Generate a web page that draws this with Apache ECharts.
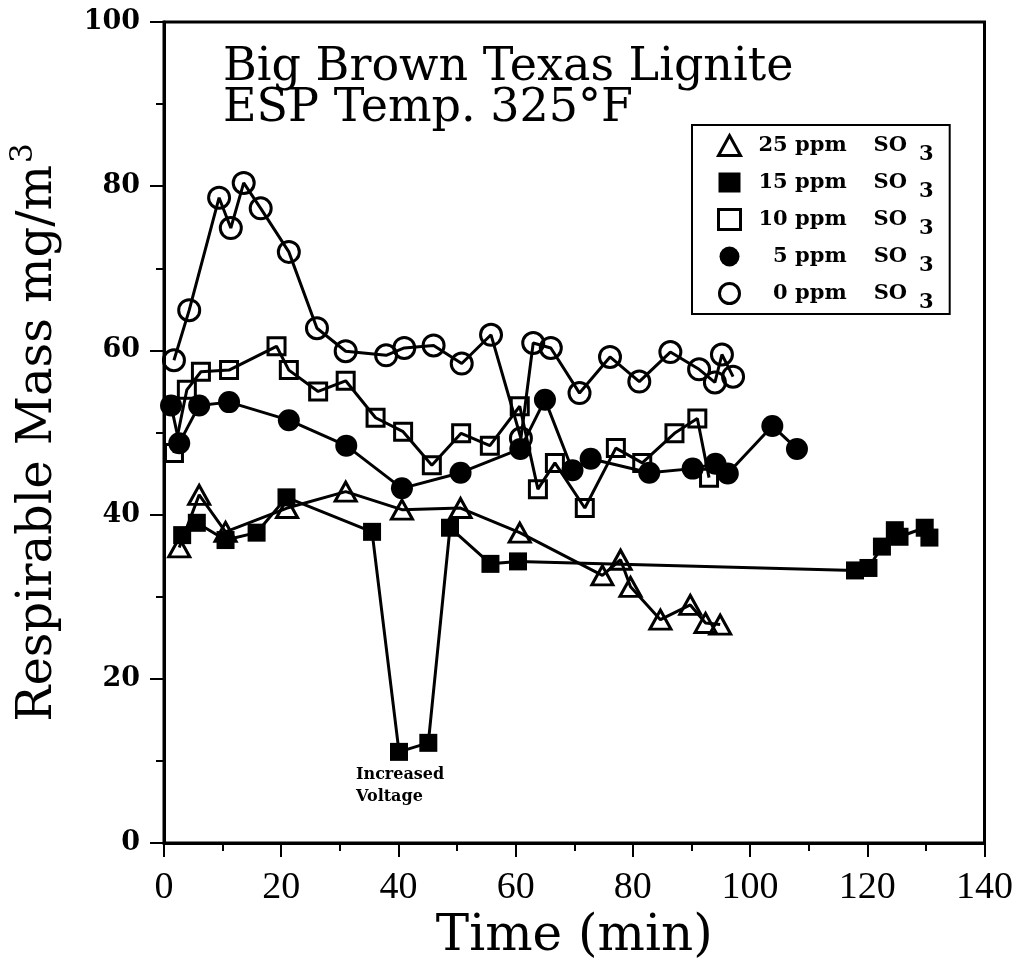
<!DOCTYPE html>
<html><head><meta charset="utf-8">
<script src="https://cdn.jsdelivr.net/npm/echarts@6/dist/echarts.min.js"></script>
<style>html,body{margin:0;padding:0;background:#fff}#c{width:1016px;height:971px}</style>
</head><body><div id="c"></div>
<script>
// ---- data (time in min, respirable mass in mg/m3) ----
const seriesNames = ['25 ppm', '15 ppm', '10 ppm', '5 ppm', '0 ppm'];
const ppm25 = [[2.6,36.0],[6.0,42.4],[10.5,37.9],[21.0,40.8],[31.0,42.8],[40.6,40.6],[50.6,40.8],[60.7,37.8],[74.8,32.6],[77.9,34.5],[79.6,31.2],[84.7,27.2],[89.8,29.0],[92.4,26.8],[94.9,26.6]];
const ppm15 = [[3.1,37.5],[5.6,39.0],[10.5,36.9],[15.8,37.8],[20.9,42.1],[35.5,37.9],[40.1,11.1],[45.1,12.2],[48.8,38.4],[55.7,34.0],[60.4,34.3],[117.9,33.2],[120.2,33.5],[122.5,36.1],[124.7,38.1],[125.5,37.3],[129.8,38.4],[130.6,37.2]];
const ppm10 = [[1.7,47.5],[3.9,55.2],[6.3,57.4],[11.1,57.6],[19.2,60.5],[21.3,57.6],[26.3,55.0],[31.0,56.3],[36.1,51.8],[40.8,50.1],[45.7,46.0],[50.7,49.9],[55.6,48.4],[60.7,53.2],[63.8,43.1],[66.7,46.3],[71.8,40.8],[77.1,48.1],[81.6,46.3],[87.1,49.9],[91.0,51.7],[93.0,44.5]];
const ppm5 = [[1.2,53.3],[2.6,48.7],[6.0,53.3],[11.1,53.7],[21.3,51.5],[31.1,48.4],[40.6,43.2],[50.6,45.1],[60.8,48.0],[65.0,54.0],[69.7,45.4],[72.8,46.8],[82.8,45.1],[90.2,45.6],[94.1,46.2],[96.2,45.0],[103.8,50.8],[108.0,48.0]];
const ppm0 = [[1.7,58.8],[4.3,64.9],[9.4,78.6],[11.4,74.9],[13.6,80.4],[16.5,77.3],[21.3,72.0],[26.1,62.7],[31.0,59.9],[37.9,59.4],[41.0,60.3],[46.0,60.6],[50.8,58.4],[55.8,61.9],[60.9,49.3],[63.0,60.9],[66.0,60.3],[70.9,54.8],[76.1,59.2],[81.1,56.2],[86.4,59.8],[91.3,57.7],[94.0,56.1],[95.2,59.5],[97.1,56.8]];
const xTicks = [0,20,40,60,80,100,120,140];
const yTicks = [0,20,40,60,80,100];
const titleLines = ['Big Brown Texas Lignite', 'ESP Temp. 325°F'];
const annotation = { point: [40.1, 11.1], text: 'Increased\nVoltage' };

const SERIF = 'DejaVu Serif';
const hollow = 'rgba(255,255,255,0)';
const styles = [
  { symbol: 'triangle', size: [21, 19], fill: hollow, bw: 3 },
  { symbol: 'rect', size: 18, fill: '#000', bw: 0 },
  { symbol: 'rect', size: 17, fill: hollow, bw: 3 },
  { symbol: 'circle', size: 22, fill: '#000', bw: 0 },
  { symbol: 'circle', size: 21, fill: hollow, bw: 3 }
];
const datasets = [ppm25, ppm15, ppm10, ppm5, ppm0];

const series = datasets.map((d, i) => {
  const st = styles[i];
  const data = d.map(p => {
    if (i === 1 && p[0] === annotation.point[0] && p[1] === annotation.point[1]) {
      return { value: p, label: { show: true, position: 'bottom', align: 'left', offset: [-43, 0], distance: 3,
        formatter: annotation.text, fontFamily: SERIF, fontWeight: 'bold', fontSize: 16, lineHeight: 22, color: '#000' } };
    }
    return p;
  });
  return {
    name: seriesNames[i], type: 'line', data,
    symbol: st.symbol, symbolSize: st.size, showSymbol: true,
    lineStyle: { color: '#000', width: 3 },
    itemStyle: { color: st.fill, borderColor: '#000', borderWidth: st.bw },
    emphasis: { disabled: true }, z: 2 + i
  };
});

const chart = echarts.init(document.getElementById('c'), null, { renderer: 'canvas' });
chart.setOption({
  animation: false,
  backgroundColor: '#fff',
  title: {
    text: titleLines.join('\n'), left: 218, top: 43,
    textStyle: { fontFamily: SERIF, fontSize: 46, fontWeight: 'normal', color: '#000', lineHeight: 41 }
  },
  legend: {
    orient: 'vertical', left: 692, top: 125,
    padding: [1, 16, 1, 25], itemGap: -2, itemWidth: 22, itemHeight: 20,
    borderColor: '#000', borderWidth: 2, selectedMode: false,
    data: seriesNames.map((n, i) => ({
      name: n, icon: styles[i].symbol,
      itemStyle: { color: styles[i].fill, borderColor: '#000', borderWidth: styles[i].bw }
    })),
    formatter: n => `{n|${n.length < 6 ? '  ' + n : n}}{so|SO}{s|3}`,
    textStyle: {
      fontFamily: SERIF, fontWeight: 'bold', fontSize: 21, color: '#000',
      rich: {
        n: { fontFamily: SERIF, fontWeight: 'bold', fontSize: 21, lineHeight: 24, padding: [0, 0, 0, 13] },
        so: { fontFamily: SERIF, fontWeight: 'bold', fontSize: 21, lineHeight: 24, padding: [0, 0, 0, 27] },
        s: { fontFamily: SERIF, fontWeight: 'bold', fontSize: 21, lineHeight: 24, padding: [18, 0, 0, 12] }
      }
    }
  },
  grid: { left: 160, right: 31, top: 22, bottom: 128, show: true, borderColor: '#000', borderWidth: 3, backgroundColor: 'transparent' },
  xAxis: {
    type: 'value', min: xTicks[0], max: xTicks[xTicks.length - 1], interval: xTicks[1] - xTicks[0],
    name: 'Time (min)', nameLocation: 'middle', nameGap: 64,
    nameTextStyle: { fontFamily: SERIF, fontSize: 50, color: '#000' },
    axisLine: { show: true, lineStyle: { color: '#000', width: 3 } },
    axisTick: { show: true, inside: false, length: 14, lineStyle: { color: '#000', width: 2 } },
    minorTick: { show: true, splitNumber: 2, length: 8, lineStyle: { color: '#000', width: 2 } },
    splitLine: { show: false },
    axisLabel: { margin: 26, fontFamily: 'Liberation Serif', fontSize: 38, color: '#000' }
  },
  yAxis: {
    type: 'value', min: yTicks[0], max: yTicks[yTicks.length - 1], interval: yTicks[1] - yTicks[0],
    name: 'Respirable Mass mg/m{sup|3}', nameLocation: 'middle', nameGap: 95, nameRotate: 90,
    nameTextStyle: { fontFamily: SERIF, fontSize: 48, color: '#000',
      rich: { sup: { fontFamily: SERIF, fontSize: 31, color: '#000', padding: [0, 0, 30, 2] } } },
    axisLine: { show: true, lineStyle: { color: '#000', width: 3 } },
    axisTick: { show: true, inside: false, length: 14, lineStyle: { color: '#000', width: 2 } },
    minorTick: { show: true, splitNumber: 2, length: 8, lineStyle: { color: '#000', width: 2 } },
    splitLine: { show: false },
    axisLabel: { margin: 24, fontFamily: SERIF, fontWeight: 'bold', fontSize: 27, color: '#000' }
  },
  series
});
</script>
</body></html>
